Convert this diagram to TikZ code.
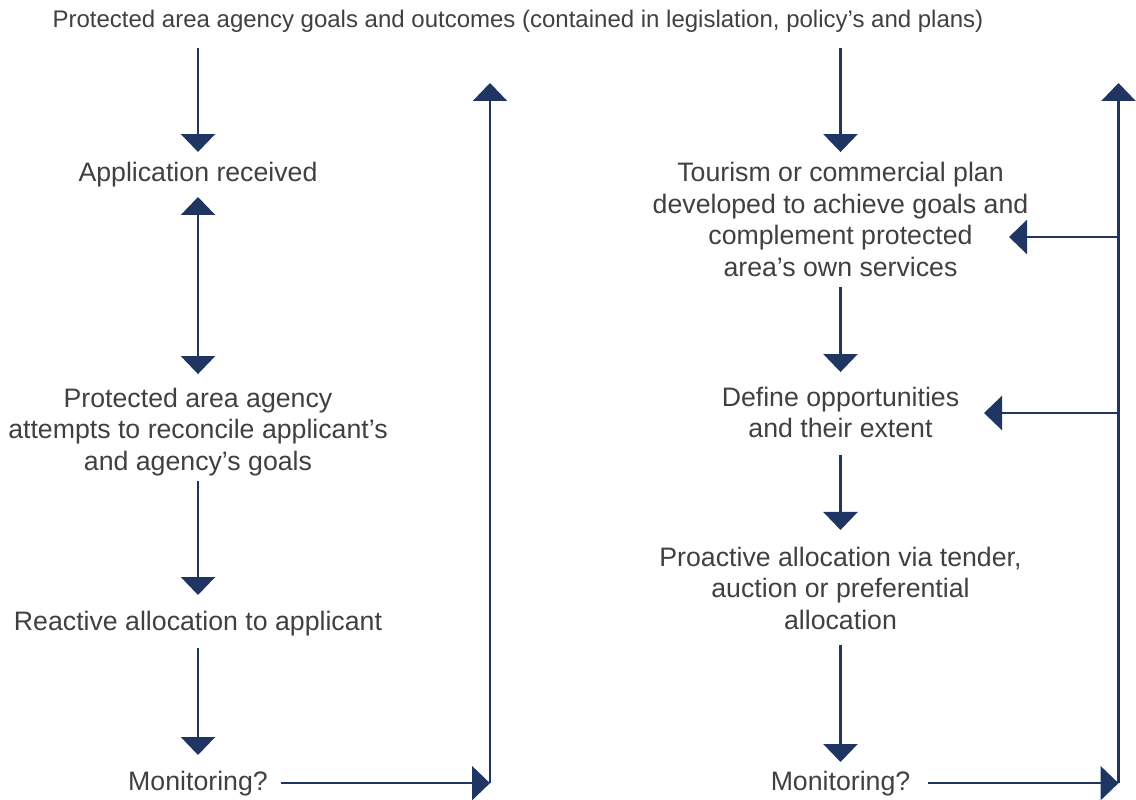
\documentclass[tikz,border=0pt]{standalone}
\usepackage{fontspec}
\setmainfont{Liberation Sans}
\usetikzlibrary{arrows.meta}
\definecolor{navy}{RGB}{31,54,99}
\definecolor{txt}{RGB}{64,64,64}
\begin{document}
\begin{tikzpicture}[x=1pt,y=-1pt,
  lbl/.style={inner sep=0pt, outer sep=0pt, text=txt, align=center, font=\fontsize{26.7}{31.5}\selectfont},
  ttl/.style={lbl, font=\fontsize{24}{28}\selectfont},
  tipA/.tip={Triangle[width=34pt,length=18pt]},
  arr/.style={draw=navy, line width=2.6pt, -tipA},
  darr/.style={draw=navy, line width=2.6pt, tipA-tipA}]
\useasboundingbox (0,0) rectangle (1136,800);

% texts
\node[ttl, anchor=base] (title) at (518,28) {Protected area agency goals and outcomes (contained in legislation, policy’s and plans)};

\node[lbl] (app) at (198,174.85) {Application received};
\node[lbl] (rec) at (198,432) {Protected area agency\\attempts to reconcile applicant’s\\and agency’s goals};
\node[lbl] (rea) at (198,623.15) {Reactive allocation to applicant};
\node[lbl] (mon1) at (198,783.15) {Monitoring?};

\node[lbl] (tour) at (840.5,219.6) {Tourism or commercial plan\\developed to achieve goals and\\complement protected\\area’s own services};
\node[lbl] (def) at (840.5,412.6) {Define opportunities\\and their extent};
\node[lbl] (pro) at (840.5,588) {Proactive allocation via tender,\\auction or preferential\\allocation};
\node[lbl] (mon2) at (840.5,783.15) {Monitoring?};

% feedback line points
\coordinate (c1) at (490,783.15);
\coordinate (t1) at (490,83);
\coordinate (c2) at (1118.5,783.15);
\coordinate (t2) at (1118.5,83);
\coordinate (j1) at (1118.5,237);
\coordinate (e1) at (1009,237);
\coordinate (j2) at (1118.5,413);
\coordinate (e2) at (984,413);

% left column
\draw[arr, shorten <=15pt, shorten >=10.4pt] (title.south -| app.north) -- (app.north);
\draw[darr, shorten <=9.7pt, shorten >=14pt] (app.south) -- (rec.north);
\draw[arr, shorten <=5pt, shorten >=15.7pt] (rec.south) -- (rea.north);
\draw[arr, shorten <=12.4pt, shorten >=15.7pt] (rea.south) -- (mon1.north);
\draw[arr, shorten <=13.7pt] (mon1.east) -- (c1);
\draw[arr] (c1) -- (t1);

% right column
\draw[arr, shorten <=15pt, shorten >=10.5pt] (title.south -| tour.north) -- (tour.north);
\draw[arr, shorten <=10.3pt, shorten >=15pt] (tour.south) -- (def.north);
\draw[arr, shorten <=16.8pt, shorten >=16.7pt] (def.south) -- (pro.north);
\draw[arr, shorten <=15.6pt, shorten >=8.7pt] (pro.south) -- (mon2.north);
\draw[arr, shorten <=17.7pt] (mon2.east) -- (c2);
\draw[arr] (c2) -- (t2);
\draw[arr] (j1) -- (e1);
\draw[arr] (j2) -- (e2);
\end{tikzpicture}
\end{document}
